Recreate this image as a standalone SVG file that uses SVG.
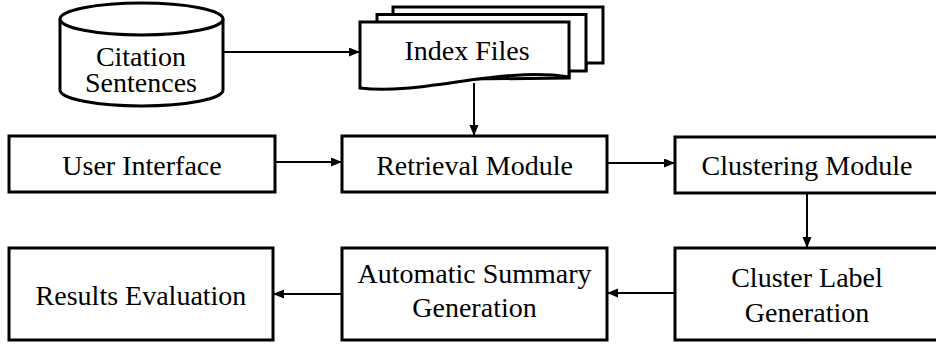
<svg xmlns="http://www.w3.org/2000/svg" width="936" height="347" viewBox="0 0 936 347">
<style>
.box{fill:#fff;stroke:#000;stroke-width:3}
.t{font-family:"Liberation Serif","Times New Roman",serif;font-size:28px;fill:#000;text-anchor:middle}
.c{fill:none;stroke:#000;stroke-width:2}
</style>
<defs>
<marker id="ah" markerUnits="userSpaceOnUse" markerWidth="11" markerHeight="10" refX="10" refY="4.5" orient="auto">
<path d="M0,0 L11,4.5 L0,9 z" fill="#000"/>
</marker>
</defs>
<rect width="936" height="347" fill="#fff"/>
<g id="citation">
<path class="box" d="M60,19 L60,90 A81.5,16 0 0 0 223,90 L223,19"/>
<ellipse class="box" cx="141.5" cy="19" rx="81.5" ry="16"/>
<text class="t" x="141" y="66">Citation</text>
<text class="t" x="141" y="92">Sentences</text>
</g>
<g id="index">
<path class="box" d="M393,7 H603 V63 H586 L586,70 L393,73 Z"/>
<path class="box" d="M377,14.5 H586 V71 H569 L569,78 L377,80 Z"/>
<path class="box" d="M360,22 H569 V77 C500,66 420,96 360,88 Z"/>
<text class="t" x="467" y="60">Index Files</text>
</g>
<g id="user">
<rect class="box" x="9" y="136" width="266" height="56"/>
<text class="t" x="142" y="175">User Interface</text>
</g>
<g id="retrieval">
<rect class="box" x="342" y="136" width="265" height="56"/>
<text class="t" x="474.5" y="175">Retrieval Module</text>
</g>
<g id="clustering">
<rect class="box" x="675" y="137" width="265" height="56"/>
<text class="t" x="807" y="175">Clustering Module</text>
</g>
<g id="label">
<rect class="box" x="675" y="248" width="265" height="92"/>
<text class="t" x="807" y="287">Cluster Label</text>
<text class="t" x="807" y="322">Generation</text>
</g>
<g id="summary">
<rect class="box" x="342" y="248" width="265" height="92"/>
<text class="t" x="474.5" y="283">Automatic Summary</text>
<text class="t" x="474.5" y="317">Generation</text>
</g>
<g id="results">
<rect class="box" x="9" y="248" width="264" height="92"/>
<text class="t" x="141" y="305">Results Evaluation</text>
</g>
<g id="connectors">
<line class="c" x1="223" y1="52" x2="359" y2="52" marker-end="url(#ah)"/>
<line class="c" x1="474" y1="83" x2="474" y2="135" marker-end="url(#ah)"/>
<line class="c" x1="275" y1="162" x2="341" y2="162" marker-end="url(#ah)"/>
<line class="c" x1="607" y1="163" x2="674" y2="163" marker-end="url(#ah)"/>
<line class="c" x1="807" y1="193" x2="807" y2="247" marker-end="url(#ah)"/>
<line class="c" x1="675" y1="293" x2="608" y2="293" marker-end="url(#ah)"/>
<line class="c" x1="342" y1="294" x2="274" y2="294" marker-end="url(#ah)"/>
</g>
</svg>
